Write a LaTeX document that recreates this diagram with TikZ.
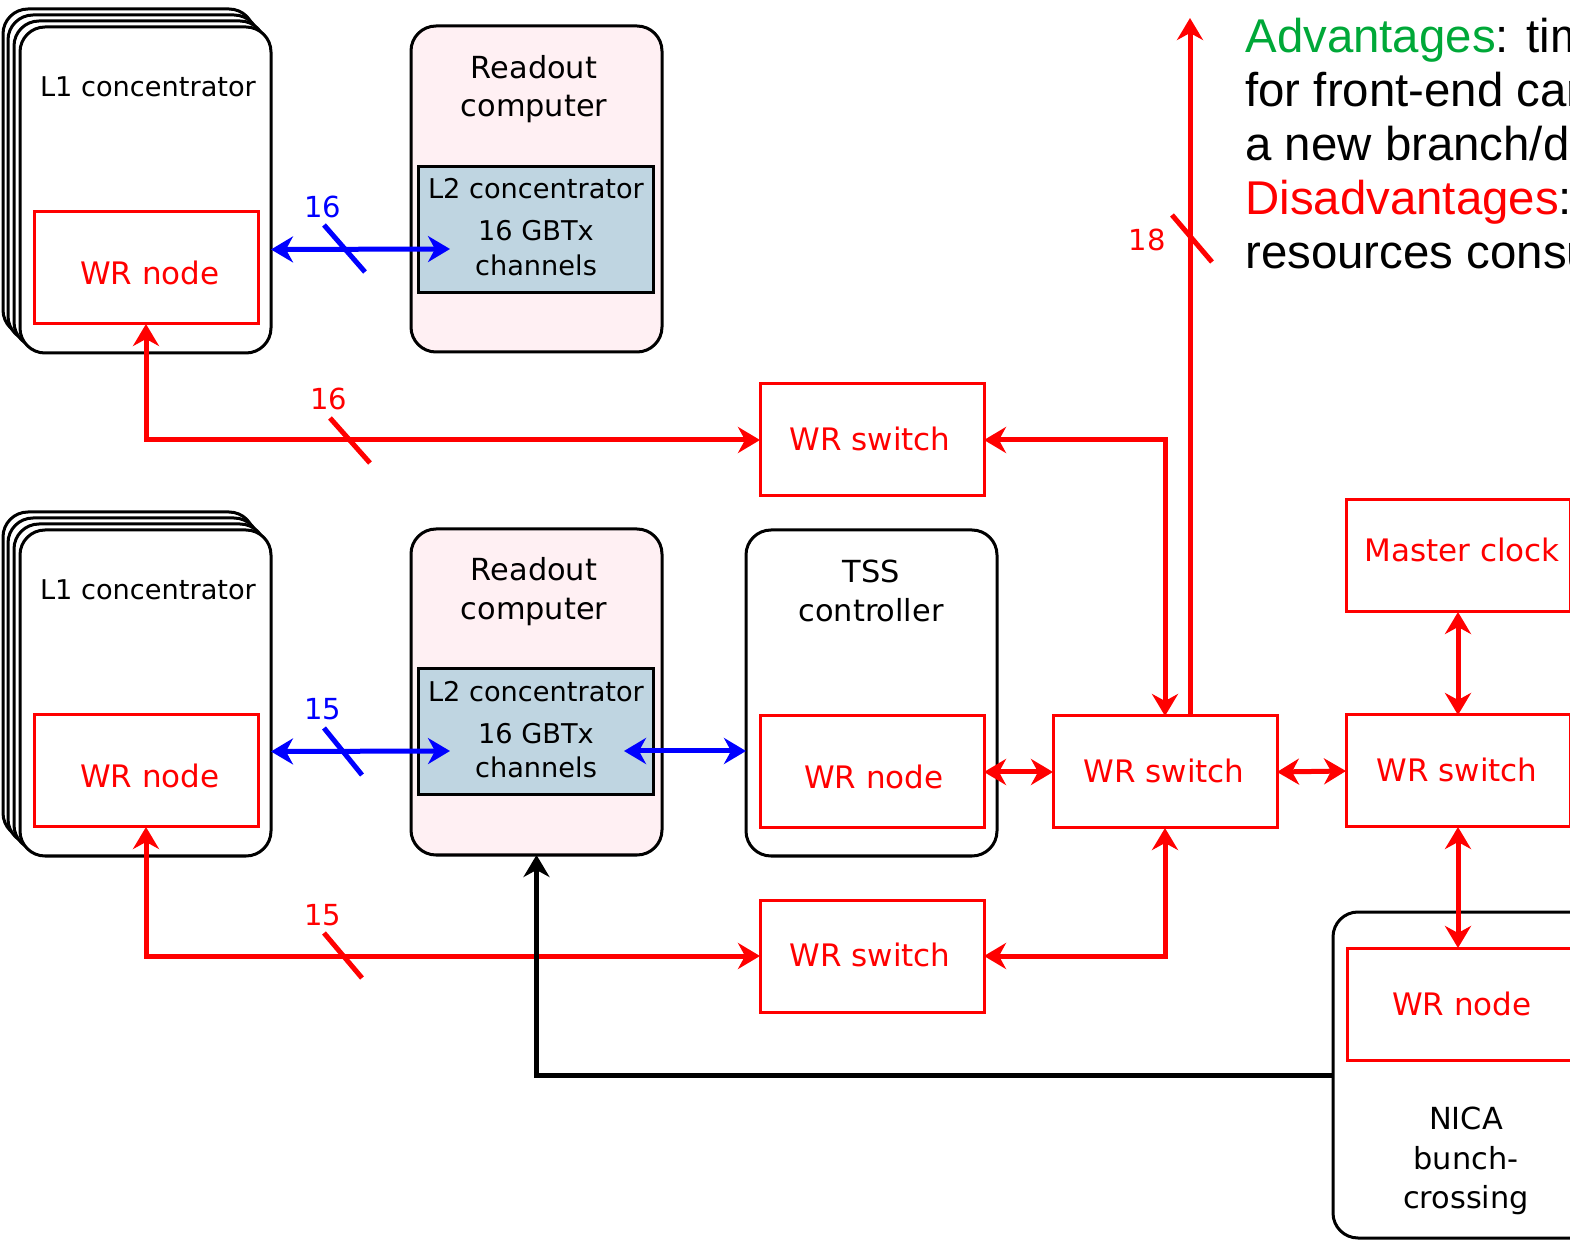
\documentclass[tikz,border=0pt]{standalone}
\usepackage{fontspec}
\setmainfont{DejaVu Sans}
\newfontfamily\lib{Liberation Sans}
\usetikzlibrary{arrows.meta,calc}
\definecolor{pinkfill}{HTML}{FFF0F3}
\definecolor{ltwofill}{HTML}{BFD5E1}
\definecolor{advgreen}{HTML}{00A838}
\newcommand\fbig{\fontsize{15.5pt}{19pt}\selectfont}
\newcommand\fmid{\fontsize{15.2pt}{19pt}\selectfont}
\newcommand\fsmall{\fontsize{13.6pt}{17pt}\selectfont}
\newcommand\fnum{\fontsize{14.5pt}{17pt}\selectfont}
\newcommand\ftop{\lib\fontsize{23.7pt}{27pt}\selectfont}
\begin{document}
\begin{tikzpicture}[x=0.5pt,y=-0.5pt,
  rbox/.style={draw=black, line width=1.5pt, rounded corners=12.5pt, fill=white,
    minimum width=125.5pt, minimum height=163pt, anchor=north west, inner sep=0, outer sep=0},
  pbox/.style={rbox, fill=pinkfill},
  redbox/.style={draw=red, line width=1.5pt, fill=white, minimum width=112pt,
    minimum height=56pt, anchor=north west, inner sep=0, outer sep=0},
  ltwo/.style={draw=black, line width=1.5pt, fill=ltwofill, minimum width=117.5pt,
    minimum height=63pt, anchor=north west, inner sep=0, outer sep=0},
  txt/.style={anchor=base, inner sep=0, outer sep=0},
  tip/.style={},
  rarr/.style={draw=red, line width=2.5pt, {Stealth[length=11pt,width=13pt,inset=3.5pt]}-{Stealth[length=11pt,width=13pt,inset=3.5pt]}},
  barr/.style={draw=blue, line width=2.5pt, {Stealth[length=11pt,width=13pt,inset=3.5pt]}-{Stealth[length=11pt,width=13pt,inset=3.5pt]}},
  slash/.style={line width=2.5pt},
]
\useasboundingbox (0,0) rectangle (1570,1240);
\clip (0,0) rectangle (1570,1240);

% ---------- top L1 concentrator stack ----------
\node[rbox] (l1aback3) at (3,9) {};
\node[rbox] (l1aback2) at (8,15) {};
\node[rbox] (l1aback1) at (14,21) {};
\node[rbox] (l1a) at (20,27) {};
\node[txt] (l1atxt) at (148,97) {\fsmall L1 concentrator};
\node[redbox] (wrn1) at (34,212) {};
\node[txt, text=red] (wrn1txt) at (150,285) {\fbig WR node};

% ---------- top readout computer ----------
\node[pbox] (ro1) at (411,26) {};
\node[txt] (ro1t1) at (534,79) {\fmid Readout};
\node[txt] (ro1t2) at (534,117) {\fmid computer};
\node[ltwo] (l2a) at (418,167) {};
\node[txt] (l2at1) at (536,199) {\fsmall L2 concentrator};
\node[txt] (l2at2) at (536,241) {\fsmall 16 GBTx};
\node[txt] (l2at3) at (536,276) {\fsmall channels};

% ---------- bottom L1 concentrator stack ----------
\node[rbox] (l1bback3) at (3,512) {};
\node[rbox] (l1bback2) at (8,518) {};
\node[rbox] (l1bback1) at (14,524) {};
\node[rbox] (l1b) at (20,530) {};
\node[txt] (l1btxt) at (148,600) {\fsmall L1 concentrator};
\node[redbox] (wrn2) at (34,715) {};
\node[txt, text=red] (wrn2txt) at (150,788) {\fbig WR node};

% ---------- bottom readout computer ----------
\node[pbox] (ro2) at (411,529) {};
\node[txt] (ro2t1) at (534,581) {\fmid Readout};
\node[txt] (ro2t2) at (534,620) {\fmid computer};
\node[ltwo] (l2b) at (418,669) {};
\node[txt] (l2bt1) at (536,702) {\fsmall L2 concentrator};
\node[txt] (l2bt2) at (536,744) {\fsmall 16 GBTx};
\node[txt] (l2bt3) at (536,778) {\fsmall channels};

% ---------- TSS controller ----------
\node[rbox] (tss) at (746,530) {};
\node[txt] (tsst1) at (871,583) {\fmid TSS};
\node[txt] (tsst2) at (871,622) {\fmid controller};
\node[redbox] (tssn) at (760,716) {};
\node[txt, text=red] (tssntxt) at (874,789) {\fbig WR node};

% ---------- WR switches ----------
\node[redbox] (sw1) at (760,384) {};
\node[txt, text=red] (sw1txt) at (870,451) {\fbig WR switch};
\node[redbox] (sw2) at (760,900) {};
\node[txt, text=red] (sw2txt) at (870,966) {\fbig WR switch};
\node[redbox] (swc) at (1053,716) {};
\node[txt, text=red] (swctxt) at (1164,783) {\fbig WR switch};
\node[redbox] (swr) at (1346,715) {};
\node[txt, text=red] (swrtxt) at (1457,782) {\fbig WR switch};
\node[redbox] (mc) at (1346,500) {};
\node[txt, text=red] (mctxt) at (1462,562) {\fbig Master clock};

% ---------- NICA ----------
\node[rbox, minimum width=140pt] (nica) at (1333,912) {};
\node[redbox] (nican) at (1347,948) {};
\node[txt, text=red] (nicantxt) at (1462,1015) {\fbig WR node};
\node[txt] (nicat1) at (1466,1129) {\fmid NICA};
\node[txt] (nicat2) at (1466,1169) {\fmid bunch-};
\node[txt] (nicat3) at (1466,1208) {\fmid crossing};

% ---------- blue connectors ----------
\draw[barr] ($(l1a.east)+(0,59.5)$) -- ($(l2a.west)+(32,19)$);
\draw[blue, slash] (324,225) -- (365,272);
\node[txt, text=blue] (lab16b) at (323,218) {\fnum 16};
\draw[barr] ($(l1b.east)+(0,58.5)$) -- ($(l2b.west)+(32,19)$);
\draw[blue, slash] (324,728) -- (362,775);
\node[txt, text=blue] (lab15b) at (323,720) {\fnum 15};
\draw[barr] ($(l2b.east)+(-29,19)$) -- ($(tss.west)+(0,58)$);

% ---------- red connectors ----------
\draw[rarr] (wrn1.south) |- (sw1.west);
\draw[red, slash] (330,418) -- (370,463);
\node[txt, text=red] (lab16r) at (329,410) {\fnum 16};
\draw[rarr] (sw1.east) -| (swc.north);
\draw[rarr] (wrn2.south) |- (sw2.west);
\draw[red, slash] (324,933) -- (362,978);
\node[txt, text=red] (lab15r) at (323,925) {\fnum 15};
\draw[rarr] (sw2.east) -| (swc.south);
\draw[rarr] (tssn.east) -- (swc.west);
\draw[rarr] (swc.east) -- (swr.west);
\draw[rarr] (mc.south) -- (swr.north);
\draw[rarr] (swr.south) -- (swr.south |- nican.north);
\coordinate (uptop) at (1190,18);
\draw[red, line width=2.5pt, -{Stealth[length=11pt,width=13pt,inset=3.5pt]}] ($(swc.north)+(25,0)$) -- (uptop);
\draw[red, slash] (1172,215) -- (1212,262);
\node[txt, text=red] (lab18) at (1147,251) {\fnum 18};

% ---------- black connector ----------
\draw[black, line width=2.5pt, -{Stealth[length=11pt,width=13pt,inset=3.5pt]}] (nica.west) -| (ro2.south);

% ---------- top-right text ----------
\node[anchor=base west, inner sep=0] (adv1) at (1245,53) {\ftop\textcolor{advgreen}{Advantages}: timing};
\node[anchor=base west, inner sep=0] (adv2) at (1245,107) {\ftop for front-end cards};
\node[anchor=base west, inner sep=0] (adv3) at (1245,161) {\ftop a new branch/design};
\node[anchor=base west, inner sep=0] (adv4) at (1245,215) {\ftop\textcolor{red}{Disadvantages}: };
\node[anchor=base west, inner sep=0] (adv5) at (1245,269) {\ftop resources consumption};
\end{tikzpicture}
\end{document}
